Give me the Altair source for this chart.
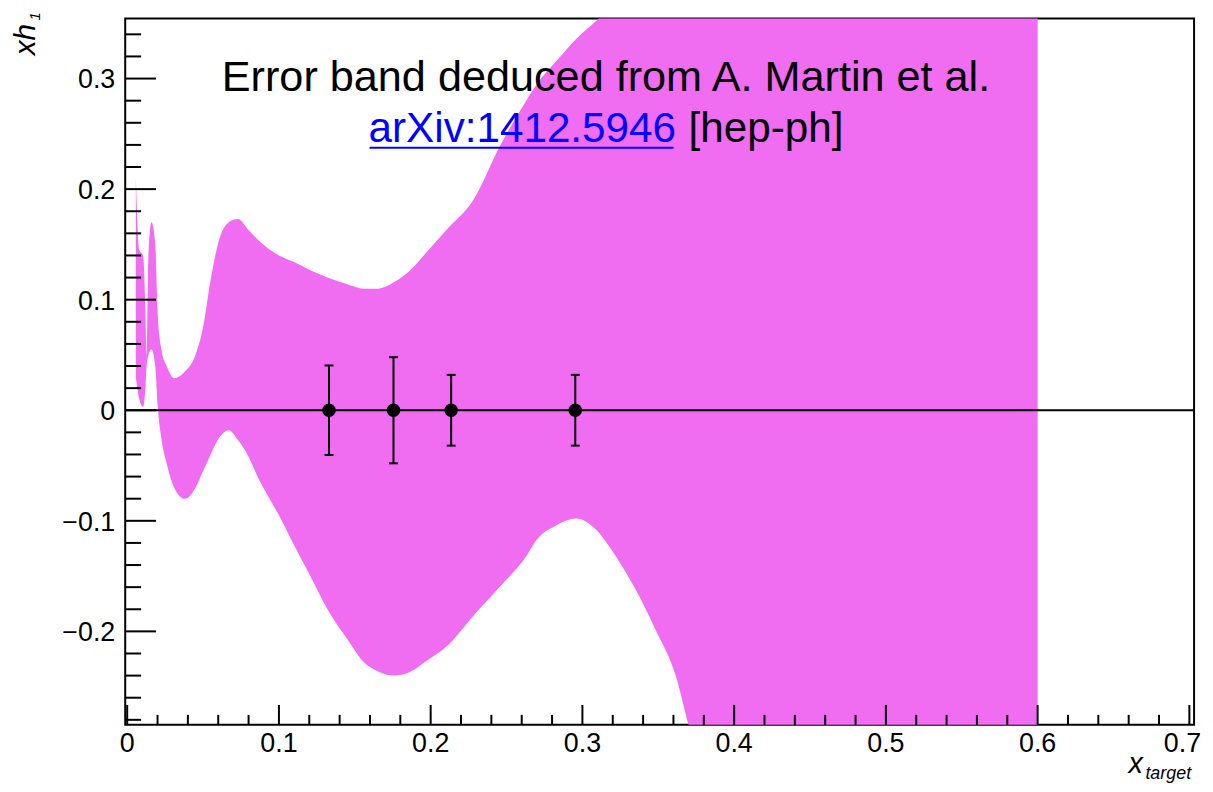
import altair as alt
import pandas as pd

# ---------------- data ----------------
# error band (A. Martin et al.) : x, lower edge, upper edge
band_x = [0.0057, 0.0080, 0.0105, 0.0120, 0.0128, 0.0140, 0.0160, 0.0185, 0.0200,
          0.0225, 0.0260, 0.0310, 0.0380, 0.0450, 0.0500, 0.0550, 0.0610, 0.0670,
          0.0730, 0.0800, 0.0870, 0.0930, 0.1000, 0.1100, 0.1200, 0.1320, 0.1450,
          0.1560, 0.1650, 0.1760, 0.1860, 0.1980, 0.2110, 0.2280, 0.2460, 0.2630,
          0.2700, 0.2830, 0.2960, 0.3090, 0.3220, 0.3350, 0.3480, 0.3615, 0.3700,
          0.3800, 0.4000, 0.6000]
band_lo = [0.030, 0.010, 0.003, 0.020, 0.040, 0.050, 0.055, 0.040, 0.005,
           -0.025, -0.048, -0.070, -0.080, -0.070, -0.055, -0.040, -0.024, -0.018,
           -0.027, -0.042, -0.063, -0.078, -0.095, -0.122, -0.148, -0.180, -0.207,
           -0.228, -0.236, -0.240, -0.237, -0.226, -0.213, -0.186, -0.159, -0.132,
           -0.117, -0.104, -0.098, -0.108, -0.132, -0.162, -0.198, -0.240, -0.285,
           -0.330, -0.400, -0.750]
band_hi = [0.210, 0.145, 0.140, 0.090, 0.050, 0.140, 0.170, 0.150, 0.090,
           0.055, 0.040, 0.029, 0.035, 0.050, 0.075, 0.118, 0.156, 0.170,
           0.173, 0.163, 0.153, 0.146, 0.140, 0.134, 0.127, 0.120, 0.114,
           0.110, 0.110, 0.116, 0.126, 0.144, 0.164, 0.190, 0.240, 0.280,
           0.295, 0.316, 0.336, 0.352, 0.370, 0.388, 0.405, 0.422, 0.434,
           0.448, 0.476, 0.750]

# data points with error bars
pts_x = [0.1330, 0.1755, 0.2135, 0.2953]
pts_y = [0.0, 0.0, 0.0, 0.0]
pts_err = [0.0405, 0.0480, 0.0320, 0.0320]

# axis ticks and labels
x_major = [0.0, 0.1, 0.2, 0.3, 0.4, 0.5, 0.6]
x_labels = ["0", "0.1", "0.2", "0.3", "0.4", "0.5", "0.6"]
x_last = [0.7]
x_last_label = ["0.7"]
x_minor = [round(0.02 * i, 2) for i in range(0, 36) if i % 5 != 0]
y_major = [-0.2, -0.1, 0.0, 0.1, 0.2, 0.3]
y_labels = ["\u22120.2", "\u22120.1", "0", "0.1", "0.2", "0.3"]
y_minor = [round(0.02 * i, 2) for i in range(-14, 18) if i % 5 != 0]

title1 = "Error band deduced from A. Martin et al."
title2_link = "arXiv:1412.5946"
title2_rest = "[hep-ph]"
ytitle = "xh"
ytitle_sub = "1"
xtitle = "x"
xtitle_sub = "target"

# ---------------- layout ----------------
W, H = 1076, 711
PAD_L, PAD_T = 118, 8
OX, OY = 8 + PAD_L, 8 + PAD_T   # page position of plot origin
FONT = "Liberation Sans"

xs = alt.Scale(domain=[-0.0013, 0.7031], nice=False, zero=False)
ys = alt.Scale(domain=[-0.2845, 0.3543], nice=False, zero=False)

band_df = pd.DataFrame({"x": band_x, "lo": band_lo, "hi": band_hi})
pts_df = pd.DataFrame({"x": pts_x, "y": pts_y, "err": pts_err})
pts_df["lo"] = pts_df["y"] - pts_df["err"]
pts_df["hi"] = pts_df["y"] + pts_df["err"]

band = alt.Chart(band_df).mark_area(
    clip=True, interpolate="monotone", color="#f06cf0"
).encode(
    x=alt.X("x:Q", scale=xs, axis=None),
    y=alt.Y("lo:Q", scale=ys, axis=None),
    y2="hi:Q",
)

zero = alt.Chart(pd.DataFrame({"z": [0.0]})).mark_rule(
    color="black", strokeWidth=2
).encode(y=alt.Y("z:Q", scale=ys, axis=None))

bars = alt.Chart(pts_df).mark_rule(color="black", strokeWidth=2).encode(
    x=alt.X("x:Q", scale=xs, axis=None),
    y=alt.Y("lo:Q", scale=ys, axis=None),
    y2="hi:Q",
)
cap_lo = alt.Chart(pts_df).mark_tick(
    orient="horizontal", size=9, thickness=2, color="black", opacity=1
).encode(x=alt.X("x:Q", scale=xs, axis=None), y=alt.Y("lo:Q", scale=ys, axis=None))
cap_hi = alt.Chart(pts_df).mark_tick(
    orient="horizontal", size=9, thickness=2, color="black", opacity=1
).encode(x=alt.X("x:Q", scale=xs, axis=None), y=alt.Y("hi:Q", scale=ys, axis=None))
points = alt.Chart(pts_df).mark_circle(size=185, color="black", opacity=1).encode(
    x=alt.X("x:Q", scale=xs, axis=None),
    y=alt.Y("y:Q", scale=ys, axis=None),
)


def xticks(vals, length):
    return alt.Chart(pd.DataFrame({"v": vals})).mark_rule(
        color="black", strokeWidth=2
    ).encode(x=alt.X("v:Q", scale=xs, axis=None), y=alt.value(H), y2=alt.value(H - length))


def yticks(vals, length):
    return alt.Chart(pd.DataFrame({"v": vals})).mark_rule(
        color="black", strokeWidth=2
    ).encode(y=alt.Y("v:Q", scale=ys, axis=None), x=alt.value(0), x2=alt.value(length))


def xlabels(vals, texts, dx=0):
    return alt.Chart(pd.DataFrame({"v": vals, "t": texts})).mark_text(
        align="center", baseline="alphabetic", fontSize=27, font=FONT, color="black", dx=dx
    ).encode(x=alt.X("v:Q", scale=xs, axis=None), y=alt.value(754 - OY), text="t:N")


y_tick_labels = alt.Chart(pd.DataFrame({"v": y_major, "t": y_labels})).mark_text(
    align="right", baseline="alphabetic", fontSize=27, font=FONT, color="black", dy=10
).encode(y=alt.Y("v:Q", scale=ys, axis=None), x=alt.value(116 - OX), text="t:N")


def label(text, px, py, size, color="black", align="left", italic=False, angle=0):
    return alt.Chart(pd.DataFrame({"t": [text]})).mark_text(
        align=align, baseline="alphabetic", fontSize=size, font=FONT,
        fontStyle="italic" if italic else "normal", color=color, angle=angle
    ).encode(x=alt.value(px - OX), y=alt.value(py - OY), text="t:N")


underline = alt.Chart(pd.DataFrame({"u": [1]})).mark_rule(
    color="#0000ff", strokeWidth=2
).encode(x=alt.value(372 - OX), x2=alt.value(678 - OX), y=alt.value(146 - OY))

chart = alt.layer(
    band,
    zero,
    bars, cap_lo, cap_hi, points,
    xticks(x_major + x_last, 20), xticks(x_minor, 10),
    yticks(y_major, 31), yticks(y_minor, 16),
    xlabels(x_major, x_labels), xlabels(x_last, x_last_label, dx=-7),
    y_tick_labels,
    label(title1, 610, 89, 43.5, align="center"),
    label(title2_link, 371, 140, 42.5, color="#0000ff", align="left"),
    label(title2_rest, 849, 140, 42.5, align="right"),
    underline,
    label(ytitle, 35, 53, 30, italic=True, angle=270),
    label(ytitle_sub, 40, 18, 15, italic=True, angle=270),
    label(xtitle, 1136, 776, 29, italic=True),
    label(xtitle_sub, 1153, 782, 18, italic=True),
).properties(
    width=W, height=H,
    background="white",
    autosize=alt.AutoSizeParams(type="none"),
    padding={"left": PAD_L, "top": PAD_T, "right": 11, "bottom": 57},
).configure_view(
    stroke="black", strokeWidth=2
)

chart.save("out.html", embed_options={"renderer": "svg", "actions": False})
